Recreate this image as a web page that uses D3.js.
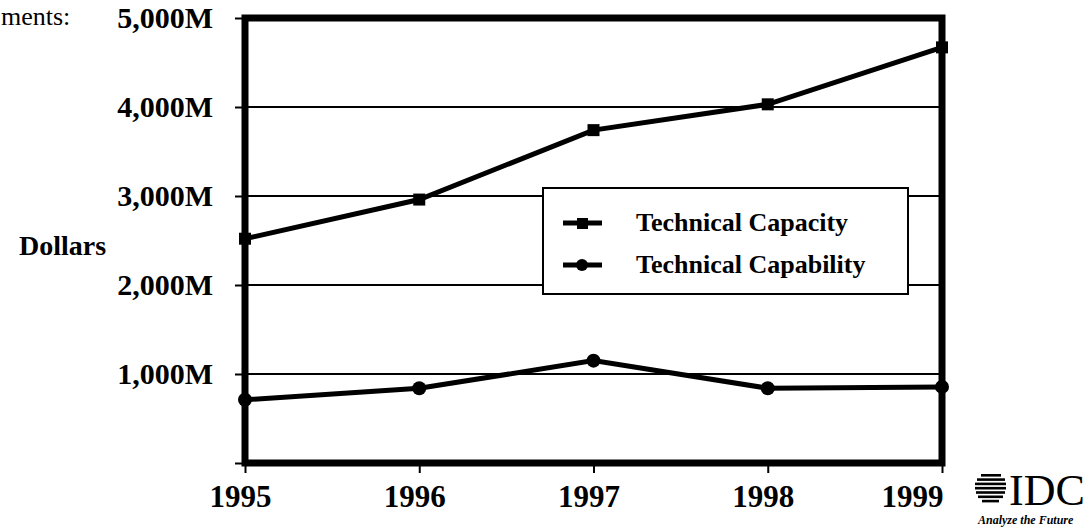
<!DOCTYPE html>
<html>
<head>
<meta charset="utf-8">
<script src="https://cdn.jsdelivr.net/npm/d3@7"></script>
<style>
  body { margin: 0; background: #fff; }
</style>
</head>
<body>
<div id="chart"></div>
<script>
const years = ['1995', '1996', '1997', '1998', '1999'];
const capacity = [2520, 2960, 3740, 4030, 4670];
const capability = [710, 840, 1150, 840, 855];
const yTicks = [0, 1000, 2000, 3000, 4000, 5000];
const seriesNames = ['Technical Capacity', 'Technical Capability'];

const width = 1086;
const height = 529;
const margin = { top: 18, right: 144, bottom: 66, left: 245 };
const serif = '"Liberation Serif", "Times New Roman", Times, serif';

const svg = d3.select('#chart')
  .append('svg')
  .attr('width', width)
  .attr('height', height);

const x = d3.scalePoint()
  .domain(years)
  .range([margin.left, width - margin.right]);

const y = d3.scaleLinear()
  .domain([0, 5000])
  .range([height - margin.bottom, margin.top]);

function boldText(sel, size) {
  sel.style('font-family', serif)
    .style('font-weight', '700')
    .style('font-size', size + 'px')
    .attr('fill', '#000');
}

// text left over from the page above
svg.append('text')
  .attr('x', 1)
  .attr('y', 25)
  .style('font-family', serif)
  .style('font-size', '26px')
  .text('ments:');

// grid lines
svg.append('g')
  .selectAll('line')
  .data(yTicks.slice(1, -1))
  .join('line')
    .attr('x1', margin.left)
    .attr('x2', width - margin.right)
    .attr('y1', d => y(d))
    .attr('y2', d => y(d))
    .attr('stroke', '#000')
    .attr('stroke-width', 2);

// y axis
const yAxis = svg.append('g')
  .attr('transform', `translate(${margin.left},0)`)
  .call(d3.axisLeft(y).tickValues(yTicks).tickSize(10).tickPadding(22)
    .tickFormat(d => d === 0 ? '' : d3.format(',')(d) + 'M'));
yAxis.select('.domain').remove();
yAxis.selectAll('.tick line').attr('stroke-width', 2);
yAxis.selectAll('text').call(boldText, 30);

// x axis
const xAxis = svg.append('g')
  .attr('transform', `translate(0,${height - margin.bottom})`)
  .call(d3.axisBottom(x).tickSize(10).tickPadding(12));
xAxis.select('.domain').remove();
xAxis.selectAll('.tick line').attr('stroke-width', 2);
xAxis.selectAll('text')
  .call(boldText, 31)
  .attr('dx', (d, i) => i === years.length - 1 ? -30 : -5);

// frame
svg.append('rect')
  .attr('x', margin.left)
  .attr('y', margin.top)
  .attr('width', width - margin.left - margin.right)
  .attr('height', height - margin.top - margin.bottom)
  .attr('fill', 'none')
  .attr('stroke', '#000')
  .attr('stroke-width', 7);

svg.append('text')
  .attr('x', 19)
  .attr('y', 255)
  .text('Dollars')
  .call(boldText, 28);

const line = d3.line()
  .x((d, i) => x(years[i]))
  .y(d => y(d));

svg.append('path')
  .datum(capacity)
  .attr('d', line)
  .attr('fill', 'none')
  .attr('stroke', '#000')
  .attr('stroke-width', 5);

svg.append('g')
  .selectAll('rect')
  .data(capacity)
  .join('rect')
    .attr('x', (d, i) => x(years[i]) - 6)
    .attr('y', d => y(d) - 6)
    .attr('width', 12)
    .attr('height', 12)
    .attr('fill', '#000');

svg.append('path')
  .datum(capability)
  .attr('d', line)
  .attr('fill', 'none')
  .attr('stroke', '#000')
  .attr('stroke-width', 5);

svg.append('g')
  .selectAll('circle')
  .data(capability)
  .join('circle')
    .attr('cx', (d, i) => x(years[i]))
    .attr('cy', d => y(d))
    .attr('r', 7)
    .attr('fill', '#000');

// legend
const legend = svg.append('g').attr('transform', 'translate(543,188)');
legend.append('rect')
  .attr('width', 365)
  .attr('height', 106)
  .attr('fill', '#fff')
  .attr('stroke', '#000')
  .attr('stroke-width', 2);

const items = legend.selectAll('g.item')
  .data(seriesNames)
  .join('g')
    .attr('class', 'item')
    .attr('transform', (d, i) => `translate(0,${35 + i * 42})`);

items.append('line')
  .attr('x1', 20).attr('x2', 59)
  .attr('stroke', '#000')
  .attr('stroke-width', 5);

items.filter((d, i) => i === 0).append('rect')
  .attr('x', 34).attr('y', -5).attr('width', 11).attr('height', 11)
  .attr('fill', '#000');
items.filter((d, i) => i === 1).append('circle')
  .attr('cx', 39).attr('r', 6).attr('fill', '#000');

items.append('text')
  .attr('x', 93)
  .attr('y', 8)
  .text(d => d)
  .call(boldText, 26);

// IDC logo
const logo = svg.append('g').attr('transform', 'translate(975,474)');
const stripes = [[6, 20], [2, 28], [0, 31], [0, 31], [1, 29], [3, 25], [7, 17]];
logo.selectAll('rect')
  .data(stripes)
  .join('rect')
    .attr('x', d => d[0])
    .attr('y', (d, i) => i * 4.3)
    .attr('width', d => d[1])
    .attr('height', 2.6)
    .attr('fill', '#000');
logo.append('text')
  .attr('x', 34)
  .attr('y', 31)
  .style('font-family', serif)
  .style('font-size', '44px')
  .text('IDC');
logo.append('text')
  .attr('x', 3)
  .attr('y', 50)
  .style('font-family', serif)
  .style('font-size', '12px')
  .style('font-style', 'italic')
  .style('font-weight', '700')
  .text('Analyze the Future');
</script>
</body>
</html>
